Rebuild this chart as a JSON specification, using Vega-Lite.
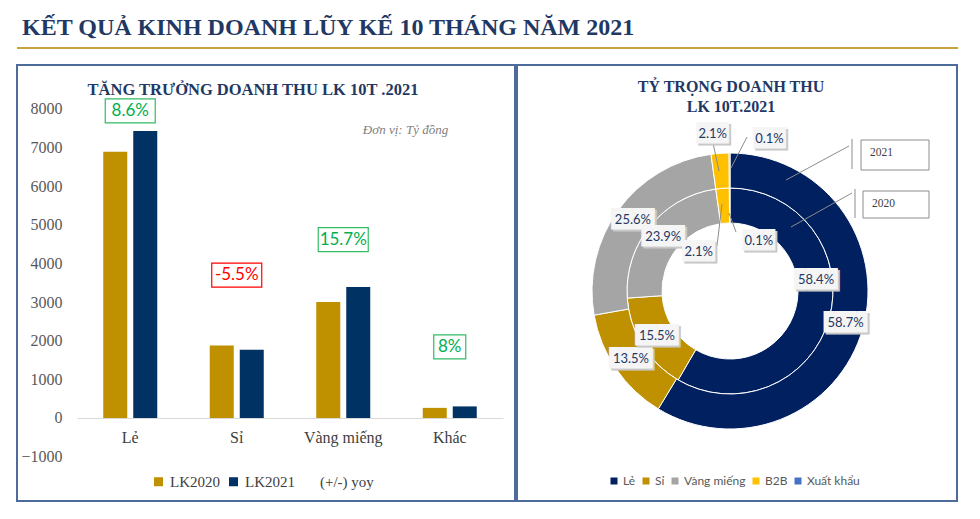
{
  "$schema": "https://vega.github.io/schema/vega-lite/v6.json",
  "background": "white",
  "padding": {"left": 16, "top": 16, "right": 0, "bottom": 0},
  "title": {"text": "KẾT QUẢ KINH DOANH LŨY KẾ 10 THÁNG NĂM 2021", "anchor": "start", "font": "Liberation Serif", "fontSize": 24, "fontWeight": "bold", "color": "#1F3864", "dx": 6, "offset": 7},
  "config": {"view": {"stroke": "#4D6C9C", "strokeWidth": 2}},
  "datasets": {
    "bars": [
      {"cat": "Lẻ", "series": "LK2020", "value": 6890},
      {"cat": "Lẻ", "series": "LK2021", "value": 7430},
      {"cat": "Sỉ", "series": "LK2020", "value": 1875},
      {"cat": "Sỉ", "series": "LK2021", "value": 1765},
      {"cat": "Vàng miếng", "series": "LK2020", "value": 3000},
      {"cat": "Vàng miếng", "series": "LK2021", "value": 3390},
      {"cat": "Khác", "series": "LK2020", "value": 262},
      {"cat": "Khác", "series": "LK2021", "value": 300}
    ],
    "yoy": [
      {"cat": "Lẻ", "yoy": 8.6, "lab": "8.6%", "labelY": 7950},
      {"cat": "Sỉ", "yoy": -5.5, "lab": "-5.5%", "labelY": 3700},
      {"cat": "Vàng miếng", "yoy": 15.7, "lab": "15.7%", "labelY": 4620},
      {"cat": "Khác", "yoy": 8, "lab": "8%", "labelY": 1840}
    ],
    "share": [
      {"year": 2021, "seg": "Lẻ", "k": 1, "share": 0.587},
      {"year": 2021, "seg": "Sỉ", "k": 2, "share": 0.135},
      {"year": 2021, "seg": "Vàng miếng", "k": 3, "share": 0.256},
      {"year": 2021, "seg": "B2B", "k": 4, "share": 0.021},
      {"year": 2021, "seg": "Xuất khẩu", "k": 5, "share": 0.001},
      {"year": 2020, "seg": "Lẻ", "k": 1, "share": 0.584},
      {"year": 2020, "seg": "Sỉ", "k": 2, "share": 0.155},
      {"year": 2020, "seg": "Vàng miếng", "k": 3, "share": 0.239},
      {"year": 2020, "seg": "B2B", "k": 4, "share": 0.021},
      {"year": 2020, "seg": "Xuất khẩu", "k": 5, "share": 0.001}
    ],
    "callouts": [
      {"t": "2021", "x": 131, "x2": 199, "y": 151, "y2": 121},
      {"t": "2020", "x": 133, "x2": 199, "y": 100, "y2": 73}
    ],
    "leaders": [
      {"x": 56, "y": 111, "x2": 119, "y2": 145},
      {"x": 122, "y": 152, "x2": 122, "y2": 122},
      {"x": 61, "y": 64, "x2": 122, "y2": 98},
      {"x": 125, "y": 102, "x2": 125, "y2": 73},
      {"x": -17, "y": 148, "x2": -11, "y2": 120},
      {"x": 17, "y": 154, "x2": 1, "y2": 123},
      {"x": -13, "y": 45, "x2": -8, "y2": 87},
      {"x": 6, "y": 59, "x2": -1, "y2": 78}
    ]
  },
  "spacing": 15,
  "vconcat": [
    {
      "width": 941, "height": 1,
      "view": {"stroke": null},
      "data": {"values": [{"k": 0}]},
      "mark": {"type": "rule", "color": "#C9A43B", "strokeWidth": 2},
      "encoding": {"y": {"datum": 0, "type": "quantitative", "axis": null}}
    },
    {
      "spacing": 0,
      "resolve": {"scale": {"color": "independent", "x": "independent", "y": "independent", "theta": "independent"}, "legend": {"color": "independent"}},
      "hconcat": [
        {
          "width": 498, "height": 436,
          "title": {"text": "TĂNG TRƯỞNG DOANH THU LK 10T .2021", "font": "Liberation Serif", "fontSize": 16.5, "fontWeight": "bold", "color": "#1F3864", "anchor": "middle", "dx": -13, "offset": -33},
          "layer": [
            {
              "data": {"name": "bars"},
              "mark": {"type": "bar"},
              "encoding": {
                "x": {"field": "cat", "type": "nominal", "sort": ["Lẻ", "Sỉ", "Vàng miếng", "Khác"], "scale": {"range": [60, 486], "paddingInner": 0, "paddingOuter": 0},
                      "axis": {"orient": "bottom", "offset": -83, "domainColor": "#D9D9D9", "domainWidth": 1, "ticks": false, "tickSize": 0, "labelPadding": 11, "labelFont": "Liberation Serif", "labelFontSize": 16, "labelColor": "#404040", "labelAngle": 0, "title": null}},
                "xOffset": {"field": "series", "type": "nominal", "scale": {"paddingInner": 0.2, "paddingOuter": 0.875}},
                "y": {"field": "value", "type": "quantitative", "scale": {"domain": [-2149, 9139], "nice": false, "zero": false},
                      "axis": {"values": [-1000, 0, 1000, 2000, 3000, 4000, 5000, 6000, 7000, 8000], "format": "d", "grid": false, "domain": false, "ticks": false, "tickSize": 0, "labelPadding": 0, "offset": -45, "labelFont": "Liberation Serif", "labelFontSize": 16, "labelColor": "#595959", "labelBaseline": "middle",
                               "title": "Đơn vị: Tỷ đồng", "titleAngle": 0, "titleX": 343, "titleY": 64, "titleFont": "Liberation Serif", "titleFontSize": 13, "titleFontStyle": "italic", "titleFontWeight": "normal", "titleColor": "#7F7F7F", "titleAlign": "center", "titleBaseline": "middle"}},
                "color": {"field": "series", "type": "nominal", "scale": {"domain": ["LK2020", "LK2021", "(+/-) yoy"], "range": ["#BF9000", "#003263", "rgba(255,255,255,0)"]},
                          "legend": {"title": null, "orient": "none", "legendX": 134, "legendY": 409, "direction": "horizontal", "columns": 3, "symbolType": "square", "symbolSize": 81, "symbolStrokeWidth": 0, "labelFont": "Liberation Serif", "labelFontSize": 15, "labelColor": "#404040", "labelOffset": 4, "columnPadding": 6, "padding": 0}}
              }
            },
            {
              "data": {"name": "yoy"},
              "mark": {"type": "point", "filled": false, "strokeWidth": 1.2, "opacity": 1},
              "encoding": {
                "x": {"field": "cat", "type": "nominal", "sort": ["Lẻ", "Sỉ", "Vàng miếng", "Khác"]},
                "y": {"field": "labelY", "type": "quantitative"},
                "shape": {"condition": {"test": "datum.lab === '8%'", "value": "M-1,-0.75H1V0.75H-1Z"}, "value": "M-1,-0.48H1V0.48H-1Z"},
                "size": {"condition": {"test": "datum.lab === '8%'", "value": 1024}, "value": 2500},
                "stroke": {"condition": {"test": "datum.yoy < 0", "value": "#FF0000"}, "value": "#33BB66"}
              }
            },
            {
              "data": {"name": "yoy"},
              "mark": {"type": "text", "font": "Lato", "fontSize": 17, "align": "center", "baseline": "middle"},
              "encoding": {
                "x": {"field": "cat", "type": "nominal", "sort": ["Lẻ", "Sỉ", "Vàng miếng", "Khác"]},
                "y": {"field": "labelY", "type": "quantitative"},
                "text": {"field": "lab"},
                "color": {"condition": {"test": "datum.yoy < 0", "value": "#FF0000"}, "value": "#00B050"}
              }
            }
          ]
        },
        {
          "width": 440, "height": 436,
          "title": {"text": ["TỶ TRỌNG DOANH THU", "LK 10T.2021"], "font": "Liberation Serif", "fontSize": 16, "lineHeight": 20, "fontWeight": "bold", "color": "#1F3864", "anchor": "middle", "dx": -6, "offset": -50},
          "layer": [
            {
              "data": {"name": "share"},
              "encoding": {
                "x": {"datum": 0, "type": "quantitative", "scale": {"domain": [-213, 227], "nice": false, "zero": false}, "axis": null},
                "y": {"datum": 0, "type": "quantitative", "scale": {"domain": [-210, 226], "nice": false, "zero": false}, "axis": null},
                "theta": {"field": "share", "type": "quantitative", "stack": true},
                "order": {"field": "k", "type": "quantitative"},
                "color": {"field": "seg", "type": "nominal", "scale": {"domain": ["Lẻ", "Sỉ", "Vàng miếng", "B2B", "Xuất khẩu"], "range": ["#002060", "#BF9000", "#A5A5A5", "#FFC000", "#4472C4"]},
                          "legend": {"title": null, "orient": "none", "legendX": 91, "legendY": 410, "direction": "horizontal", "columns": 5, "symbolType": "square", "symbolSize": 49, "symbolStrokeWidth": 0, "labelFont": "Lato", "labelFontSize": 12, "labelColor": "#595959", "labelOffset": 3, "columnPadding": 4, "padding": 0}}
              },
              "layer": [
                {"transform": [{"filter": "datum.year == 2020"}], "mark": {"type": "arc", "innerRadius": 68, "outerRadius": 103, "stroke": "white", "strokeWidth": 1}},
                {"transform": [{"filter": "datum.year == 2021"}], "mark": {"type": "arc", "innerRadius": 103, "outerRadius": 138, "stroke": "white", "strokeWidth": 1}}
              ]
            },
            {
              "data": {"name": "leaders"},
              "mark": {"type": "rule", "color": "#8C8C8C", "strokeWidth": 1},
              "encoding": {
                "x": {"field": "x", "type": "quantitative", "scale": {"domain": [-213, 227], "nice": false, "zero": false}, "axis": null},
                "x2": {"field": "x2"},
                "y": {"field": "y", "type": "quantitative", "scale": {"domain": [-210, 226], "nice": false, "zero": false}, "axis": null},
                "y2": {"field": "y2"}
              }
            },
            {
              "data": {"name": "callouts"},
              "mark": {"type": "rect", "fill": "white", "stroke": "#8C8C8C", "strokeWidth": 1},
              "encoding": {
                "x": {"field": "x", "type": "quantitative", "scale": {"domain": [-213, 227], "nice": false, "zero": false}, "axis": null},
                "x2": {"field": "x2"},
                "y": {"field": "y", "type": "quantitative", "scale": {"domain": [-210, 226], "nice": false, "zero": false}, "axis": null},
                "y2": {"field": "y2"}
              }
            },
            {
              "data": {"name": "callouts"},
              "mark": {"type": "text", "align": "left", "baseline": "middle", "dx": 9, "dy": 12.5, "font": "Liberation Serif", "fontSize": 11.5, "color": "#404040"},
              "encoding": {
                "x": {"field": "x", "type": "quantitative", "scale": {"domain": [-213, 227], "nice": false, "zero": false}, "axis": null},
                "y": {"field": "y", "type": "quantitative", "scale": {"domain": [-210, 226], "nice": false, "zero": false}, "axis": null},
                "text": {"field": "t"}
              }
            },
            {
              "data": {"name": "share"},
              "encoding": {
                "x": {"datum": 0, "type": "quantitative", "scale": {"domain": [-213, 227], "nice": false, "zero": false}, "axis": null},
                "y": {"datum": 0, "type": "quantitative", "scale": {"domain": [-210, 226], "nice": false, "zero": false}, "axis": null},
                "theta": {"field": "share", "type": "quantitative", "stack": true},
                "order": {"field": "k", "type": "quantitative"}
              },
              "layer": [
                {
                  "transform": [{"filter": "datum.year == 2021"}],
                  "layer": [
                    {"mark": {"type": "text", "radius": 120, "dx": 2, "dy": 2, "font": "DejaVu Sans Mono", "fontSize": 18, "color": "#C8C8C8", "align": "center", "baseline": "middle"}, "encoding": {"text": {"condition": {"test": "datum.share >= 0.05", "value": "████"}, "value": ""}}},
                    {"mark": {"type": "text", "radius": 120, "dx": 0, "dy": 0, "font": "DejaVu Sans Mono", "fontSize": 18, "color": "#F5F5F5", "align": "center", "baseline": "middle"}, "encoding": {"text": {"condition": {"test": "datum.share >= 0.05", "value": "████"}, "value": ""}}},
                    {"mark": {"type": "text", "radius": 120, "dx": 0, "dy": 0, "font": "Lato", "fontSize": 13, "color": "#1F3864", "align": "center", "baseline": "middle"}, "encoding": {"text": {"condition": {"test": "datum.share >= 0.05", "field": "share", "type": "quantitative", "format": ".1%"}, "value": ""}}},
                    {"mark": {"type": "text", "radius": 157, "dx": -4, "dy": 2, "font": "DejaVu Sans Mono", "fontSize": 18, "color": "#C8C8C8", "align": "center", "baseline": "middle"}, "encoding": {"text": {"condition": {"test": "datum.seg == 'B2B'", "value": "███"}, "value": ""}}},
                    {"mark": {"type": "text", "radius": 157, "dx": -6, "dy": 0, "font": "DejaVu Sans Mono", "fontSize": 18, "color": "#F5F5F5", "align": "center", "baseline": "middle"}, "encoding": {"text": {"condition": {"test": "datum.seg == 'B2B'", "value": "███"}, "value": ""}}},
                    {"mark": {"type": "text", "radius": 157, "dx": -6, "dy": 0, "font": "Lato", "fontSize": 13, "color": "#1F3864", "align": "center", "baseline": "middle"}, "encoding": {"text": {"condition": {"test": "datum.seg == 'B2B'", "field": "share", "type": "quantitative", "format": ".1%"}, "value": ""}}},
                    {"mark": {"type": "text", "radius": 157, "dx": 42, "dy": 7, "font": "DejaVu Sans Mono", "fontSize": 18, "color": "#C8C8C8", "align": "center", "baseline": "middle"}, "encoding": {"text": {"condition": {"test": "datum.seg == 'Xuất khẩu'", "value": "███"}, "value": ""}}},
                    {"mark": {"type": "text", "radius": 157, "dx": 40, "dy": 5, "font": "DejaVu Sans Mono", "fontSize": 18, "color": "#F5F5F5", "align": "center", "baseline": "middle"}, "encoding": {"text": {"condition": {"test": "datum.seg == 'Xuất khẩu'", "value": "███"}, "value": ""}}},
                    {"mark": {"type": "text", "radius": 157, "dx": 40, "dy": 5, "font": "Lato", "fontSize": 13, "color": "#1F3864", "align": "center", "baseline": "middle"}, "encoding": {"text": {"condition": {"test": "datum.seg == 'Xuất khẩu'", "field": "share", "type": "quantitative", "format": ".1%"}, "value": ""}}}
                  ]
                },
                {
                  "transform": [{"filter": "datum.year == 2020"}],
                  "layer": [
                    {"mark": {"type": "text", "radius": 86, "dx": 2, "dy": 2, "font": "DejaVu Sans Mono", "fontSize": 18, "color": "#C8C8C8", "align": "center", "baseline": "middle"}, "encoding": {"text": {"condition": {"test": "datum.share >= 0.05 && datum.seg != 'Lẻ'", "value": "████"}, "value": ""}}},
                    {"mark": {"type": "text", "radius": 86, "dx": 0, "dy": 0, "font": "DejaVu Sans Mono", "fontSize": 18, "color": "#F5F5F5", "align": "center", "baseline": "middle"}, "encoding": {"text": {"condition": {"test": "datum.share >= 0.05 && datum.seg != 'Lẻ'", "value": "████"}, "value": ""}}},
                    {"mark": {"type": "text", "radius": 86, "dx": 0, "dy": 0, "font": "Lato", "fontSize": 13, "color": "#1F3864", "align": "center", "baseline": "middle"}, "encoding": {"text": {"condition": {"test": "datum.share >= 0.05 && datum.seg != 'Lẻ'", "field": "share", "type": "quantitative", "format": ".1%"}, "value": ""}}},
                    {"mark": {"type": "text", "radius": 86, "dx": 5, "dy": -31, "font": "DejaVu Sans Mono", "fontSize": 18, "color": "#C8C8C8", "align": "center", "baseline": "middle"}, "encoding": {"text": {"condition": {"test": "datum.seg == 'Lẻ'", "value": "████"}, "value": ""}}},
                    {"mark": {"type": "text", "radius": 86, "dx": 3, "dy": -33, "font": "DejaVu Sans Mono", "fontSize": 18, "color": "#F5F5F5", "align": "center", "baseline": "middle"}, "encoding": {"text": {"condition": {"test": "datum.seg == 'Lẻ'", "value": "████"}, "value": ""}}},
                    {"mark": {"type": "text", "radius": 86, "dx": 3, "dy": -33, "font": "Lato", "fontSize": 13, "color": "#1F3864", "align": "center", "baseline": "middle"}, "encoding": {"text": {"condition": {"test": "datum.seg == 'Lẻ'", "field": "share", "type": "quantitative", "format": ".1%"}, "value": ""}}},
                    {"mark": {"type": "text", "radius": 45, "dx": -26, "dy": 8, "font": "DejaVu Sans Mono", "fontSize": 18, "color": "#C8C8C8", "align": "center", "baseline": "middle"}, "encoding": {"text": {"condition": {"test": "datum.seg == 'B2B'", "value": "███"}, "value": ""}}},
                    {"mark": {"type": "text", "radius": 45, "dx": -28, "dy": 6, "font": "DejaVu Sans Mono", "fontSize": 18, "color": "#F5F5F5", "align": "center", "baseline": "middle"}, "encoding": {"text": {"condition": {"test": "datum.seg == 'B2B'", "value": "███"}, "value": ""}}},
                    {"mark": {"type": "text", "radius": 45, "dx": -28, "dy": 6, "font": "Lato", "fontSize": 13, "color": "#1F3864", "align": "center", "baseline": "middle"}, "encoding": {"text": {"condition": {"test": "datum.seg == 'B2B'", "field": "share", "type": "quantitative", "format": ".1%"}, "value": ""}}},
                    {"mark": {"type": "text", "radius": 45, "dx": 31, "dy": -3, "font": "DejaVu Sans Mono", "fontSize": 18, "color": "#C8C8C8", "align": "center", "baseline": "middle"}, "encoding": {"text": {"condition": {"test": "datum.seg == 'Xuất khẩu'", "value": "███"}, "value": ""}}},
                    {"mark": {"type": "text", "radius": 45, "dx": 29, "dy": -5, "font": "DejaVu Sans Mono", "fontSize": 18, "color": "#F5F5F5", "align": "center", "baseline": "middle"}, "encoding": {"text": {"condition": {"test": "datum.seg == 'Xuất khẩu'", "value": "███"}, "value": ""}}},
                    {"mark": {"type": "text", "radius": 45, "dx": 29, "dy": -5, "font": "Lato", "fontSize": 13, "color": "#1F3864", "align": "center", "baseline": "middle"}, "encoding": {"text": {"condition": {"test": "datum.seg == 'Xuất khẩu'", "field": "share", "type": "quantitative", "format": ".1%"}, "value": ""}}}
                  ]
                }
              ]
            }
          ]
        }
      ]
    }
  ]
}
